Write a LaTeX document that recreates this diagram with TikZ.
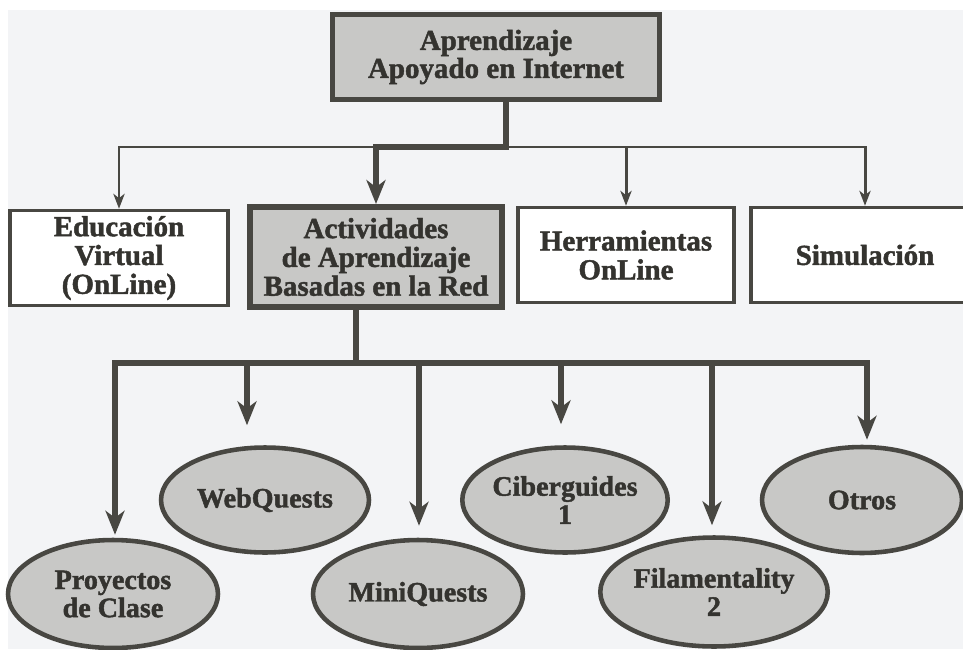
\documentclass[tikz,border=0pt]{standalone}
\usepackage{fontspec}
\setmainfont{Liberation Serif}[FakeBold=1.6]
\usepackage{tikz}
\usetikzlibrary{shapes.geometric, arrows.meta, positioning, calc}
\definecolor{mydark}{RGB}{72,71,66}
\definecolor{mytext}{RGB}{52,51,47}
\definecolor{myfill}{RGB}{200,200,198}
\definecolor{mybg}{RGB}{243,244,246}
\tikzset{
  topbox/.style={rectangle, draw=mydark, fill=myfill, line width=2.6pt,
    minimum width=6.54cm, minimum height=1.7cm, inner sep=0pt,
    align=center, text=mytext, font=\bfseries\fontsize{16.5}{14.8}\selectfont},
  block/.style={rectangle, draw=mydark, fill=white, line width=2pt,
    minimum height=1.9cm, inner sep=0pt,
    align=center, text=mytext, font=\bfseries\fontsize{16.5}{16.4}\selectfont},
  actblock/.style={block, fill=myfill, line width=3.4pt, minimum height=2cm},
  oval/.style={ellipse, draw=mydark, fill=myfill, line width=2.6pt,
    minimum width=4.2cm, minimum height=2.14cm, inner sep=0pt,
    align=center, text=mytext, font=\bfseries\fontsize{16}{16}\selectfont},
  arrow/.style={-{Stealth[length=13.6pt, width=10.8pt, inset=4pt]}, line width=3.2pt, color=mydark},
  thinarrow/.style={-{Stealth[length=8.5pt, width=6.4pt, inset=2.5pt]}, line width=1.7pt, color=mydark},
  line/.style={line width=3.2pt, color=mydark}
}

\begin{document}
\begin{tikzpicture}[x=0.02cm, y=-0.02cm]
  \useasboundingbox (0,0) rectangle (963,649);
  \fill[white] (0,0) rectangle (963,649);
  \fill[mybg] (8,10) rectangle (963,649);

  % top level
  \node[topbox] (top) at (496,57) {Aprendizaje\\Apoyado en Internet};

  % second level
  \node[block, minimum width=4.36cm] (edu) at (119,258) {Educación\\Virtual\\(OnLine)};
  \node[actblock, minimum width=5.06cm] (act) at (376,257) {Actividades\\de Aprendizaje\\Basadas en la Red};
  \node[block, minimum width=4.32cm] (herr) at (626,255) {Herramientas\\OnLine};
  \node[block, minimum width=4.56cm] (sim) at (865,255) {Simulación};

  % third level
  \node[oval, minimum width=4.2cm, minimum height=2.16cm] (proy) at (113,594) {Proyectos\\de Clase};
  \node[oval, minimum width=4.16cm, minimum height=2.1cm] (web) at (265,500) {WebQuests};
  \node[oval, minimum width=4.2cm, minimum height=2.16cm] (mini) at (418,594) {MiniQuests};
  \node[oval, minimum width=4.1cm, minimum height=2.1cm] (cib) at (565,500) {Ciberguides\\1};
  \node[oval, minimum width=4.14cm, minimum height=2.18cm] (fil) at (714,592) {Filamentality\\2};
  \node[oval, minimum width=4.0cm, minimum height=2.12cm] (otr) at (862,500) {Otros};

  \coordinate (topjoin) at (506,147);
  \coordinate (actjoin) at (356,363);

  % connectors from the top box
  \draw[thinarrow] (topjoin) -| (edu);
  \draw[thinarrow] (topjoin) -| (herr);
  \draw[thinarrow] (topjoin) -| (sim);
  \draw[arrow] (top.south -| topjoin) -- (topjoin) -| (act);

  % connectors to the ovals
  \draw[line] (act.south -| actjoin) -- (actjoin);
  \foreach \n/\dx/\gap in {proy/0.04/0.06, web/-0.36/0.4, mini/0.02/0.24,
                           cib/-0.08/0.42, fil/-0.04/0.2, otr/0.1/0.1}
    \draw[arrow, shorten >=\gap cm] (actjoin) -| ([xshift=\dx cm]\n.north);
\end{tikzpicture}
\end{document}
